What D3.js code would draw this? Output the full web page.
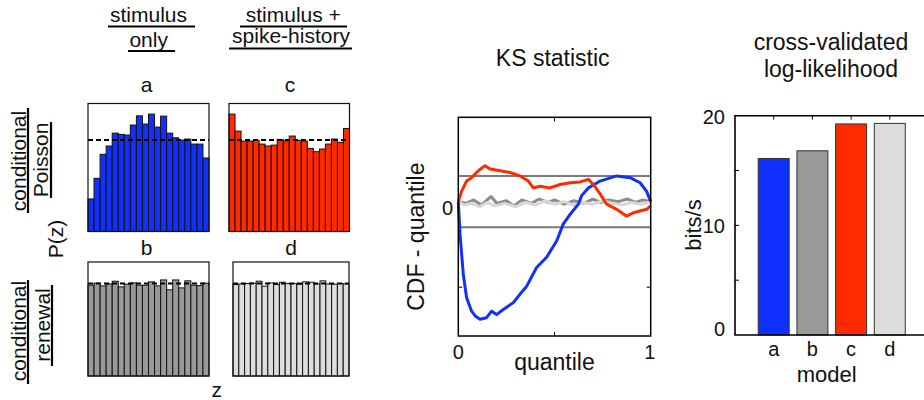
<!DOCTYPE html>
<html>
<head>
<meta charset="utf-8">
<script src="https://cdn.jsdelivr.net/npm/d3@7"></script>
<style>
  body { margin: 0; background: #fff; }
  svg text { font-family: "Liberation Sans", Arial, Helvetica, sans-serif; fill: #111; }
</style>
</head>
<body>
<svg id="fig" width="924" height="400"></svg>
<script>
// rescaled-time histograms, 20 bins each (density, uniform = 1)
var histA = [0.356, 0.582, 0.844, 0.935, 1.076, 1.062, 1.055, 1.164, 1.265, 1.175,
             1.284, 1.142, 1.262, 1.076, 1.025, 1.0, 1.011, 0.956, 0.956, 0.804];
var histC = [1.284, 1.098, 0.989, 0.989, 0.996, 0.956, 0.935, 0.945, 1.007, 0.993,
             1.044, 0.996, 0.989, 0.909, 0.873, 0.902, 0.956, 1.011, 0.975, 1.127];
var histB = [0.982, 1.004, 0.975, 0.996, 1.025, 0.964, 0.993, 1.007, 0.982, 0.982,
             1.018, 0.975, 1.039, 0.932, 1.039, 0.953, 1.029, 0.982, 0.978, 1.004];
var histD = [0.989, 0.996, 1.0, 1.004, 1.025, 0.971, 1.007, 0.989, 1.014, 1.0,
             1.0, 0.993, 1.018, 1.014, 0.996, 1.029, 0.996, 0.993, 1.0, 0.996];

// KS plot: CDF - quantile vs quantile
var ksA = [[0,0],[0.009,-0.038],[0.026,-0.085],[0.043,-0.112],[0.069,-0.128],[0.09,-0.134],
           [0.113,-0.1375],[0.147,-0.1356],[0.173,-0.128],[0.199,-0.132],[0.234,-0.126],
           [0.286,-0.118],[0.321,-0.108],[0.355,-0.099],[0.407,-0.077],[0.459,-0.065],
           [0.511,-0.046],[0.546,-0.026],[0.581,-0.015],[0.624,-0.003],[0.641,0.007],
           [0.676,0.016],[0.737,0.024],[0.823,0.030],[0.893,0.028],[0.945,0.022],
           [0.979,0.012],[1,0]];
var ksC = [[0,0],[0.017,0.012],[0.043,0.024],[0.069,0.028],[0.104,0.036],[0.139,0.042],
           [0.165,0.038],[0.217,0.036],[0.269,0.034],[0.321,0.030],[0.364,0.024],
           [0.390,0.016],[0.425,0.018],[0.477,0.016],[0.529,0.020],[0.581,0.022],
           [0.633,0.023],[0.676,0.026],[0.702,0.020],[0.737,0.009],[0.771,-0.003],
           [0.823,-0.009],[0.875,-0.017],[0.910,-0.013],[0.945,-0.011],[0.979,-0.009],[1,-0.005]];
var ksB = [[0,0],[0.04,-0.002],[0.08,0.002],[0.12,-0.004],[0.17,0.006],[0.2,-0.002],
           [0.25,0.001],[0.29,-0.005],[0.33,0.002],[0.38,-0.002],[0.42,0.003],[0.47,-0.001],
           [0.5,0.002],[0.55,-0.003],[0.6,0.001],[0.65,-0.002],[0.7,0.003],[0.74,-0.001],
           [0.78,0.002],[0.83,0],[0.88,0.003],[0.92,-0.001],[0.96,0.002],[1,0]];
var ksD = [[0,0],[0.03,-0.004],[0.07,-0.002],[0.11,-0.006],[0.15,-0.001],[0.19,-0.005],
           [0.24,-0.002],[0.3,-0.006],[0.35,-0.001],[0.4,-0.004],[0.45,0.001],[0.5,-0.003],
           [0.55,0],[0.6,-0.004],[0.65,-0.001],[0.7,-0.003],[0.75,0.001],[0.8,-0.002],
           [0.85,-0.004],[0.9,-0.001],[0.95,-0.003],[1,0]];
var ksBound = 0.03;

// cross-validated log-likelihood (bits/s)
var models = ["a", "b", "c", "d"];
var logLik = [16.1, 16.8, 19.25, 19.3];

var BLUE = "#0f30ff", RED = "#ff2a00", GRAY = "#999999", LIGHT = "#dddddd";
var colors = [BLUE, GRAY, RED, LIGHT];

var svg = d3.select("#fig");

function txt(x, y, s, size, anchor, rot) {
  var t = svg.append("text")
      .attr("x", x).attr("y", y)
      .attr("font-size", size)
      .attr("text-anchor", anchor || "middle")
      .text(s);
  if (rot) t.attr("transform", "rotate(-90," + x + "," + y + ")");
  return t;
}
function uline(x1, y1, x2, y2) {
  svg.append("line").attr("x1", x1).attr("y1", y1).attr("x2", x2).attr("y2", y2)
    .attr("stroke", "#000").attr("stroke-width", 2.2);
}

// ---------- histograms ----------
function hist(vals, box, ymax, fill) {
  var x = d3.scaleLinear().domain([0, vals.length]).range([box[0], box[1]]);
  var y = d3.scaleLinear().domain([0, ymax]).range([box[3], box[2]]);
  var g = svg.append("g");
  g.selectAll("rect.bar").data(vals).enter().append("rect")
      .attr("class", "bar")
      .attr("x", function(d, i) { return x(i); })
      .attr("y", function(d) { return y(d); })
      .attr("width", function(d, i) { return x(i + 1) - x(i); })
      .attr("height", function(d) { return y(0) - y(d); })
      .attr("fill", fill)
      .attr("stroke", "#111").attr("stroke-width", 1);
  g.append("line")
      .attr("x1", x(0)).attr("x2", x(vals.length))
      .attr("y1", y(1)).attr("y2", y(1))
      .attr("stroke", "#000").attr("stroke-width", 2)
      .attr("stroke-dasharray", "5,3");
  g.append("rect")
      .attr("x", box[0]).attr("y", box[2])
      .attr("width", box[1] - box[0]).attr("height", box[3] - box[2])
      .attr("fill", "none").attr("stroke", "#111").attr("stroke-width", 1.2);
}
hist(histA, [88, 209, 103.5, 231.5], 1.4, BLUE);
hist(histC, [229, 349.5, 103.5, 231.5], 1.4, RED);
hist(histB, [88, 209, 262, 376], 1.233, GRAY);
hist(histD, [233, 349, 262, 376], 1.233, LIGHT);

// column headers
txt(148.5, 22, "stimulus", 21); uline(108, 26.5, 195, 26.5);
txt(148.7, 46.5, "only", 21);    uline(128, 51, 175, 51);
txt(293.3, 22, "stimulus +", 21); uline(240, 26.5, 347, 26.5);
txt(291, 43, "spike-history", 21); uline(229, 48.5, 352, 48.5);
txt(146.7, 92, "a", 21); txt(290, 92, "c", 21);
txt(146.7, 255, "b", 21); txt(291, 255, "d", 21);
txt(216.7, 397, "z", 21);

// row labels (rotated)
txt(26, 161, "conditional", 21, "middle", true); uline(28, 108, 28, 213);
txt(48, 160, "Poisson", 21, "middle", true);     uline(51, 122, 51, 198);
txt(26, 331, "conditional", 21, "middle", true); uline(28, 280, 28, 384);
txt(49.5, 325, "renewal", 21, "middle", true);   uline(52, 285, 52, 366);
txt(63, 239, "P(z)", 21, "middle", true);

// ---------- KS plot ----------
var kx = d3.scaleLinear().domain([0, 1]).range([458.3, 650.7]);
var ky = d3.scaleLinear().domain([-0.157, 0.0985]).range([336, 117.3]);
var kg = svg.append("g");
[ksBound, -ksBound].forEach(function(b) {
  kg.append("line").attr("x1", kx(0)).attr("x2", kx(1))
    .attr("y1", ky(b)).attr("y2", ky(b))
    .attr("stroke", "#7a7a7a").attr("stroke-width", 2);
});
var kline = d3.line().x(function(d) { return kx(d[0]); }).y(function(d) { return ky(d[1]); });
[[ksB, "#8c8c8c"], [ksD, "#d8d8d8"], [ksA, BLUE], [ksC, RED]].forEach(function(s) {
  kg.append("path").attr("d", kline(s[0]))
    .attr("fill", "none").attr("stroke", s[1])
    .attr("stroke-width", 3).attr("stroke-linejoin", "round");
});
kg.append("rect").attr("x", kx(0)).attr("y", ky(0.0985))
  .attr("width", kx(1) - kx(0)).attr("height", ky(-0.157) - ky(0.0985))
  .attr("fill", "none").attr("stroke", "#000").attr("stroke-width", 1.5);
// inner ticks
[-0.1].forEach(function(v) {
  kg.append("line").attr("x1", kx(0)).attr("x2", kx(0) + 4).attr("y1", ky(v)).attr("y2", ky(v)).attr("stroke", "#000");
  kg.append("line").attr("x1", kx(1)).attr("x2", kx(1) - 4).attr("y1", ky(v)).attr("y2", ky(v)).attr("stroke", "#000");
});
kg.append("line").attr("x1", kx(0.5)).attr("x2", kx(0.5)).attr("y1", 336).attr("y2", 332).attr("stroke", "#000");
kg.append("line").attr("x1", kx(0.5)).attr("x2", kx(0.5)).attr("y1", 117.3).attr("y2", 121.3).attr("stroke", "#000");
txt(kx(0), 359, "0", 20); txt(kx(1) - 1, 359, "1", 20);
txt(453, ky(0) + 13, "0", 20, "end");
txt(554.5, 370, "quantile", 23);
txt(424, 236.7, "CDF - quantile", 23, "middle", true);
txt(552.7, 65.7, "KS statistic", 23);

// ---------- log-likelihood bars ----------
var bx = d3.scaleLinear().domain([0, 5]).range([735, 928.5]);
var by = d3.scaleLinear().domain([0, 20]).range([335, 115.7]);
var bg = svg.append("g");
bg.selectAll("rect").data(logLik).enter().append("rect")
  .attr("x", function(d, i) { return bx(i + 1 - 0.4); })
  .attr("y", function(d) { return by(d); })
  .attr("width", bx(0.8) - bx(0))
  .attr("height", function(d) { return by(0) - by(d); })
  .attr("fill", function(d, i) { return colors[i]; })
  .attr("stroke", "#333").attr("stroke-width", 1);
[5, 10, 15].forEach(function(v) {
  bg.append("line").attr("x1", bx(0)).attr("x2", bx(0) + 4).attr("y1", by(v)).attr("y2", by(v)).attr("stroke", "#000");
});
models.forEach(function(m, i) {
  bg.append("line").attr("x1", bx(i + 1)).attr("x2", bx(i + 1)).attr("y1", by(20)).attr("y2", by(20) + 4).attr("stroke", "#000");
});
bg.append("path")
  .attr("d", "M" + bx(5) + "," + by(20) + "H" + bx(0) + "V" + by(0) + "H" + bx(5))
  .attr("fill", "none").attr("stroke", "#000").attr("stroke-width", 1.6);
[0, 10, 20].forEach(function(v) {
  txt(725, by(v) + 8 - (v === 0 ? 7 : 0), String(v), 20, "end");
});
models.forEach(function(m, i) { txt(bx(i + 1), 356, m, 20); });
txt(826.7, 382, "model", 22);
txt(701, 225, "bits/s", 22, "middle", true);
txt(831, 50, "cross-validated", 23);
txt(831, 76.5, "log-likelihood", 23);
</script>
</body>
</html>
